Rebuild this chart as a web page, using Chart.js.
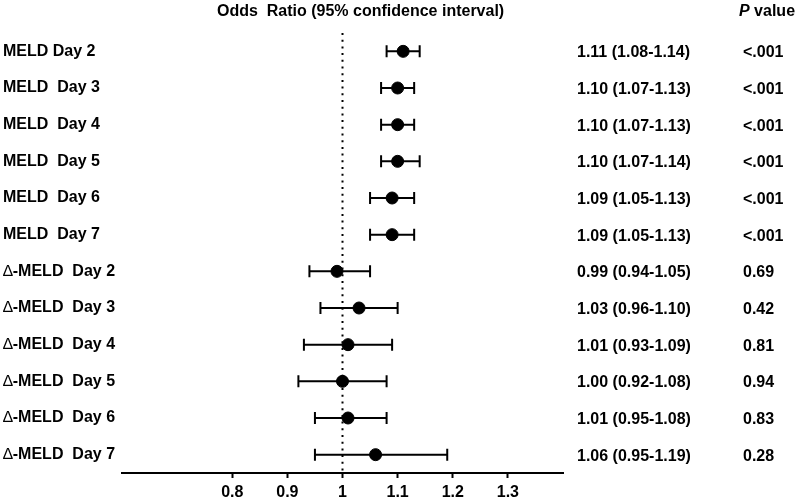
<!DOCTYPE html>
<html>
<head>
<meta charset="utf-8">
<script src="https://cdn.jsdelivr.net/npm/chart.js@4"></script>
<style>
  html, body { margin: 0; padding: 0; background: #fff; }
  #wrap { width: 800px; height: 501px; }
</style>
</head>
<body>
<div id="wrap"><canvas id="forestChart" width="800" height="501"></canvas></div>
<script>
// ============================================
// FOREST PLOT — DATA
// ============================================

const ROW_LABELS = [
  "MELD Day 2", "MELD  Day 3", "MELD  Day 4", "MELD  Day 5", "MELD  Day 6", "MELD  Day 7",
  "\u2206-MELD  Day 2", "\u2206-MELD  Day 3", "\u2206-MELD  Day 4",
  "\u2206-MELD  Day 5", "\u2206-MELD  Day 6", "\u2206-MELD  Day 7"
];

const ODDS    = [1.11, 1.10, 1.10, 1.10, 1.09, 1.09, 0.99, 1.03, 1.01, 1.00, 1.01, 1.06];
const CI_LOW  = [1.08, 1.07, 1.07, 1.07, 1.05, 1.05, 0.94, 0.96, 0.93, 0.92, 0.95, 0.95];
const CI_HIGH = [1.14, 1.13, 1.13, 1.14, 1.13, 1.13, 1.05, 1.10, 1.09, 1.08, 1.08, 1.19];

const P_VALUES = ["<.001", "<.001", "<.001", "<.001", "<.001", "<.001",
                  "0.69", "0.42", "0.81", "0.94", "0.83", "0.28"];

const X_TICKS = [0.8, 0.9, 1, 1.1, 1.2, 1.3];

const FONT = "Arial, 'Liberation Sans', sans-serif";
const INK = "#000";


// ============================================
// PLUGINS
// ============================================

const refLinePlugin = {
  id: "refLine",
  beforeDatasetsDraw(chart) {
    const { ctx, chartArea, scales } = chart;
    const x = scales.x.getPixelForValue(1);
    ctx.save();
    ctx.strokeStyle = INK;
    ctx.lineWidth = 2;
    ctx.setLineDash([2, 4.7]);
    ctx.beginPath();
    ctx.moveTo(x, chartArea.top);
    ctx.lineTo(x, chartArea.bottom);
    ctx.stroke();
    ctx.restore();
  }
};

const errorBarPlugin = {
  id: "errorBars",
  beforeDatasetsDraw(chart) {
    const { ctx, scales } = chart;
    ctx.save();
    ctx.strokeStyle = INK;
    ctx.lineWidth = 2;
    ODDS.forEach((_, i) => {
      const y = scales.y.getPixelForValue(i);
      const x1 = scales.x.getPixelForValue(CI_LOW[i]);
      const x2 = scales.x.getPixelForValue(CI_HIGH[i]);
      ctx.beginPath();
      ctx.moveTo(x1, y);
      ctx.lineTo(x2, y);
      ctx.moveTo(x1, y - 6);
      ctx.lineTo(x1, y + 6);
      ctx.moveTo(x2, y - 6);
      ctx.lineTo(x2, y + 6);
      ctx.stroke();
    });
    ctx.restore();
  }
};

// row labels: the delta sign is set in a thin weight, the rest bold
const rowLabelPlugin = {
  id: "rowLabels",
  afterDraw(chart) {
    const { ctx, scales } = chart;
    ctx.save();
    ctx.fillStyle = INK;
    ctx.textAlign = "left";
    ctx.textBaseline = "middle";
    ROW_LABELS.forEach((label, i) => {
      const y = scales.y.getPixelForValue(i);
      let x = 3;
      let rest = label;
      if (label.startsWith("\u2206")) {
        ctx.font = "16px " + FONT;
        ctx.fillText("\u2206", x, y);
        x += ctx.measureText("\u2206").width;
        rest = label.slice(1);
      }
      ctx.font = "bold 16px " + FONT;
      ctx.fillText(rest, x, y);
    });
    ctx.restore();
  }
};

const sideTextPlugin = {
  id: "sideText",
  afterDraw(chart) {
    const { ctx, scales } = chart;
    ctx.save();
    ctx.fillStyle = INK;
    ctx.textAlign = "left";
    ctx.textBaseline = "alphabetic";
    ctx.font = "bold 16px " + FONT;

    // header
    ctx.fillText("Odds  Ratio (95% confidence interval)", 217, 16);
    ctx.font = "italic bold 16px " + FONT;
    ctx.fillText("P", 739, 16);
    const pw = ctx.measureText("P").width;
    ctx.font = "bold 16px " + FONT;
    ctx.fillText(" value", 739 + pw, 16);

    // rows
    ODDS.forEach((or, i) => {
      const y = scales.y.getPixelForValue(i) + 6;
      const txt = or.toFixed(2) + " (" + CI_LOW[i].toFixed(2) + "-" + CI_HIGH[i].toFixed(2) + ")";
      ctx.fillText(txt, 577, y);
      ctx.fillText(P_VALUES[i], 743, y);
    });
    ctx.restore();
  }
};


// ============================================
// CHART
// ============================================

new Chart(document.getElementById("forestChart"), {
  type: "scatter",
  data: {
    datasets: [{
      data: ODDS.map((v, i) => ({ x: v, y: i })),
      backgroundColor: INK,
      borderColor: INK,
      pointRadius: 6,
      pointHoverRadius: 6
    }]
  },
  options: {
    responsive: false,
    animation: false,
    events: [],
    layout: {
      padding: { top: 33, left: 3, right: 237, bottom: 0 }
    },
    plugins: {
      legend: { display: false },
      tooltip: { enabled: false }
    },
    scales: {
      x: {
        type: "linear",
        min: 0.6,
        max: 1.4,
        afterBuildTicks: scale => {
          scale.ticks = X_TICKS.map(v => ({ value: v }));
        },
        afterFit: scale => { scale.height = 28; },
        grid: {
          drawOnChartArea: false,
          drawTicks: true,
          tickLength: 5,
          tickWidth: 2,
          tickColor: INK
        },
        border: { color: INK, width: 2 },
        ticks: {
          color: INK,
          padding: 5,
          maxRotation: 0,
          font: { family: FONT, size: 16, weight: "bold" },
          callback: value => String(value)
        }
      },
      y: {
        type: "linear",
        min: -0.5,
        max: 11.5,
        reverse: true,
        afterBuildTicks: scale => {
          scale.ticks = ROW_LABELS.map((_, i) => ({ value: i }));
        },
        afterFit: scale => { scale.width = 119; },
        grid: { display: false },
        border: { display: false },
        ticks: { display: false }
      }
    }
  },
  plugins: [refLinePlugin, errorBarPlugin, rowLabelPlugin, sideTextPlugin]
});
</script>
</body>
</html>
